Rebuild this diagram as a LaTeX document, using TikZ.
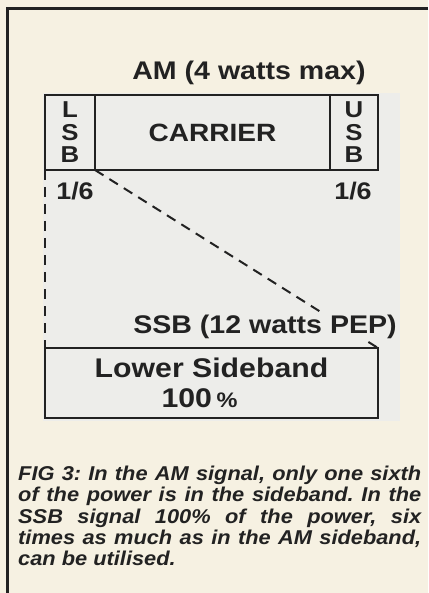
\documentclass[tikz,border=0pt]{standalone}
\usepackage{fontspec}
\setmainfont{Liberation Sans}[FakeStretch=1.12]
\newfontfamily\capfont{Liberation Sans}[FakeStretch=1.09]
\usepackage{xcolor}
\usetikzlibrary{positioning}
\definecolor{paper}{HTML}{F6F1E2}
\definecolor{panel}{HTML}{EDEDEA}
\definecolor{ink}{HTML}{222222}
\frenchspacing

\begin{document}
\begin{tikzpicture}[
    x=1pt, y=-1pt,
    color=ink,
    font=\bfseries,
    % boxes of the two spectra
    band/.style={
      draw=ink,
      line width=2.2pt,
      inner sep=0pt,
      outer sep=0pt,
      align=center,
      minimum height=75pt
    },
    head/.style={font=\bfseries\fontsize{25.5}{25}\selectfont, anchor=base},
    frac/.style={font=\bfseries\fontsize{24}{24}\selectfont, anchor=base},
    guide/.style={draw=ink, line width=2pt, dash pattern=on 10pt off 7pt}
  ]
  % paper, frame and grey panel
  \fill[paper] (0,0) rectangle (428,593);
  \useasboundingbox (0,0) rectangle (428,593);
  \fill[panel] (43,93) rectangle (400,421);
  \draw[line width=3pt] (428,9) -- (7,9) -- (7,593);

  % AM spectrum
  \node[head] (amhead) at (249,80) {AM (4 watts max)};
  \node[band, minimum width=50pt, anchor=north west, font=\bfseries\fontsize{23}{22.5}\selectfont] (lsb) at (45,95) {L\\S\\B};
  \node[band, minimum width=235pt, right=0pt of lsb, font=\bfseries\fontsize{25}{25}\selectfont] (carrier) {CARRIER};
  \node[band, minimum width=48pt, right=0pt of carrier, font=\bfseries\fontsize{23}{22.5}\selectfont] (usb) {U\\S\\B};
  \node[frac] (lsbfrac) at (75,200) {1/6};
  \node[frac] (usbfrac) at (353,200) {1/6};

  % SSB spectrum
  \node[band, minimum width=333pt, minimum height=70pt, anchor=north west, font=\bfseries\fontsize{27}{30}\selectfont] (ssbbox) at (45,348)
    {Lower Sideband\\100\,{\fontsize{21}{21}\selectfont\%}\hspace*{24pt}};
  \draw[guide] (lsb.south west) -- (ssbbox.north west);
  \draw[guide] (lsb.south east) -- (ssbbox.north east);
  \node[head, fill=panel, inner sep=2pt] (ssbhead) at (265,333) {SSB (12 watts PEP)};

  % caption
  \node[anchor=north west, text width=403pt, align=justify, inner sep=0pt,
    font=\capfont\bfseries\itshape\fontsize{20}{21.2}\selectfont] (caption) at (18,466)
    {FIG 3: In the AM signal, only one sixth\linebreak
     of the power is in the sideband. In the\linebreak
     SSB signal 100\% of the power, six\linebreak
     times as much as in the AM sideband,\linebreak
     can be utilised.};
\end{tikzpicture}
\end{document}
